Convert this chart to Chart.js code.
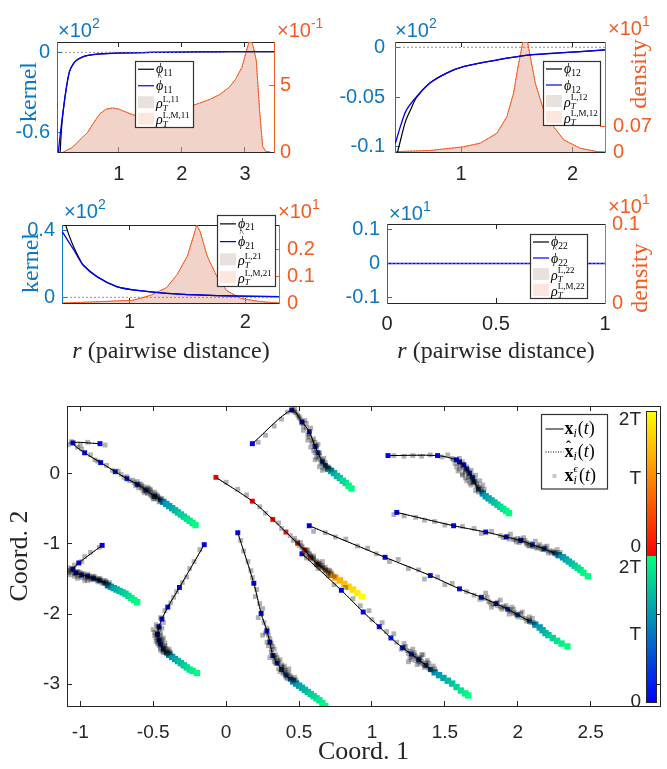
<!DOCTYPE html>
<html>
<head>
<meta charset="utf-8">
<script src="https://cdn.jsdelivr.net/npm/chart.js@4.4.1/dist/chart.umd.min.js"></script>
<style>
  html, body { margin: 0; padding: 0; background: #fff; }
  body { width: 667px; height: 769px; position: relative; overflow: hidden; }
  canvas { position: absolute; }
</style>
</head>
<body>
<canvas id="p11"></canvas>
<canvas id="p12"></canvas>
<canvas id="p21"></canvas>
<canvas id="p22"></canvas>
<canvas id="traj"></canvas>
<script>
// ---------- kernel panels: values ----------
// panel 11 (kernel x10^2, density x10^-1)
const xLim11 = [0.02, 3.46], kLim11 = [-0.744, 0.077], dLim11 = [0, 8.33];
const xTicks11 = [1, 2, 3], kTicks11 = [-0.6, 0], dTicks11 = [0, 5];
const rPhi11 = [0.07, 0.09, 0.12, 0.17, 0.22, 0.28, 0.33, 0.40, 0.49, 0.70, 1.0, 1.5, 2.0, 2.5, 3.0, 3.46];
const phi11 = [-0.745, -0.58, -0.43, -0.26, -0.14, -0.085, -0.06, -0.04, -0.025, -0.012, -0.005, -0.001, 0.002, 0.004, 0.005, 0.005];
const rPhiHat11 = [0.04, 0.07, 0.10, 0.12, 0.17, 0.22, 0.28, 0.33, 0.40, 0.49, 0.70, 1.0, 1.5, 2.0, 2.5, 3.0, 3.46];
const phiHat11 = [-0.745, -0.62, -0.50, -0.43, -0.26, -0.14, -0.085, -0.06, -0.04, -0.025, -0.012, -0.005, -0.001, 0.002, 0.004, 0.005, 0.005];
const rRho11 = [0.12, 0.25, 0.33, 0.42, 0.50, 0.60, 0.70, 0.80, 0.90, 1.00, 1.10, 1.23, 1.35, 1.45, 1.55, 1.65, 1.80, 1.96, 2.10, 2.28, 2.45, 2.60, 2.75, 2.85, 2.95, 3.02, 3.08, 3.13, 3.18, 3.23, 3.28, 3.33, 3.40];
const rho11 = [0, 0.3, 0.66, 1.1, 1.45, 2.2, 2.9, 3.25, 3.33, 3.25, 3.05, 2.8, 2.7, 2.65, 2.72, 2.8, 2.95, 3.18, 3.4, 3.7, 4.0, 4.35, 4.9, 5.5, 6.4, 7.6, 8.6, 8.0, 6.9, 3.2, 0.4, 0.05, 0];

// panel 12 (kernel x10^2, density x10^1)
const xLim12 = [0.407, 2.29], kLim12 = [-0.1053, 0.0053], dLim12 = [0, 0.30];
const xTicks12 = [1, 2], kTicks12 = [-0.1, -0.05, 0], dTicks12 = [0, 0.07];
const rPhi12 = [0.43, 0.46, 0.50, 0.55, 0.60, 0.72, 0.87, 1.02, 1.32, 1.62, 1.92, 2.29];
const phi12 = [-0.1053, -0.092, -0.075, -0.062, -0.0505, -0.036, -0.026, -0.0195, -0.0128, -0.0077, -0.0054, -0.0027];
const rPhiHat12 = [0.41, 0.46, 0.51, 0.60, 0.72, 0.87, 1.02, 1.32, 1.62, 1.92, 2.29];
const phiHat12 = [-0.0966, -0.078, -0.063, -0.0497, -0.036, -0.026, -0.0195, -0.0128, -0.0077, -0.0054, -0.0027];
const rRho12 = [0.41, 0.72, 1.02, 1.17, 1.32, 1.41, 1.47, 1.51, 1.545, 1.56, 1.59, 1.62, 1.665, 1.74, 1.83, 1.92, 2.07, 2.22, 2.29];
const rho12 = [0.001, 0.004, 0.014, 0.024, 0.051, 0.096, 0.16, 0.232, 0.287, 0.31, 0.31, 0.26, 0.187, 0.114, 0.069, 0.033, 0.010, 0.001, 0];

// panel 21 (kernel x10^2, density x10^1)
const xLim21 = [0.418, 2.29], kLim21 = [-0.034, 0.434], dLim21 = [0, 0.29];
const xTicks21 = [1, 2], kTicks21 = [0, 0.4], dTicks21 = [0, 0.1, 0.2];
const rPhi21 = [0.45, 0.48, 0.52, 0.57, 0.60, 0.72, 0.89, 1.04, 1.32, 1.61, 1.90, 2.29];
const phi21 = [0.434, 0.37, 0.30, 0.23, 0.194, 0.124, 0.064, 0.044, 0.024, 0.014, 0.008, 0.004];
const rPhiHat21 = [0.42, 0.52, 0.60, 0.72, 0.89, 1.04, 1.32, 1.61, 1.90, 2.29];
const phiHat21 = [0.394, 0.284, 0.194, 0.124, 0.064, 0.044, 0.024, 0.014, 0.008, 0.004];
const rRho21 = [0.43, 0.75, 1.03, 1.18, 1.32, 1.41, 1.50, 1.55, 1.58, 1.61, 1.67, 1.76, 1.84, 1.96, 2.13, 2.29];
const rho21 = [0, 0.005, 0.01, 0.028, 0.057, 0.105, 0.175, 0.245, 0.29, 0.265, 0.175, 0.093, 0.046, 0.017, 0.005, 0];

// panel 22 (kernel x10^1, density x10^1) - no pairs, empty density
const xLim22 = [0, 1], kLim22 = [-0.117, 0.117], dLim22 = [0, 0.1];
const xTicks22 = [0, 0.5, 1], kTicks22 = [-0.1, 0, 0.1], dTicks22 = [0, 0.1];
const rPhi22 = [0, 1], phi22 = [0, 0];
const rPhiHat22 = [0, 1], phiHat22 = [0, 0];
const rRho22 = [], rho22 = [];

// ---------- trajectories (Coord. 1, Coord. 2) ----------
const xLimT = [-1.091, 2.975], yLimT = [-3.31, 0.967];
const xTicksT = [-1, -0.5, 0, 0.5, 1, 1.5, 2, 2.5], yTicksT = [-3, -2, -1, 0];
const cbarLabels = ['2T', 'T', '0', '2T', 'T', '0'];

// type-1 agent (autumn colours)
const trainR = [[-0.07,-0.05],[0.18,-0.39],[0.32,-0.65],[0.41,-0.83],[0.49,-0.99],[0.54,-1.09],[0.58,-1.19],[0.63,-1.29],[0.68,-1.37]];
const predR = [[0.72,-1.44],[0.75,-1.48],[0.78,-1.52],[0.81,-1.57],[0.84,-1.61],[0.87,-1.65],[0.90,-1.70],[0.93,-1.75]];
const noiseR = [[0.0,-0.12],[0.08,-0.22],[0.14,-0.30],[0.23,-0.47],[0.27,-0.56],[0.36,-0.70],[0.38,-0.78],[0.44,-0.88],[0.46,-0.95],[0.50,-1.02],[0.52,-1.05],[0.55,-1.12],[0.57,-1.15],[0.60,-1.22],[0.62,-1.24],[0.64,-1.32],[0.66,-1.33],[0.69,-1.40],[0.71,-1.38],[0.60,-1.17],[0.66,-1.25],
  [0.47,-0.92],[0.51,-0.98],[0.53,-1.08],[0.56,-1.09],[0.58,-1.17],[0.59,-1.20],[0.61,-1.27],[0.63,-1.26],[0.65,-1.30],[0.67,-1.35],[0.68,-1.33],[0.70,-1.42],[0.72,-1.40],[0.55,-1.16],[0.63,-1.35],[0.74,-1.46],
  [0.49,-0.97],[0.52,-1.03],[0.55,-1.08],[0.57,-1.13],[0.60,-1.20],[0.62,-1.29],[0.64,-1.28],[0.66,-1.31],[0.68,-1.38],[0.70,-1.37],[0.58,-1.21],[0.65,-1.34]];

// type-2 agents (winter colours)
const trainA = [[-0.865,0.43],[-1.05,0.44],[-0.97,0.30],[-0.86,0.16],[-0.76,0.03],[-0.68,-0.07],[-0.61,-0.15],[-0.55,-0.23],[-0.49,-0.32],[-0.45,-0.37]];
const predA = [[-0.43,-0.40],[-0.41,-0.43],[-0.39,-0.46],[-0.37,-0.49],[-0.35,-0.52],[-0.33,-0.55],[-0.31,-0.58],[-0.29,-0.61],[-0.27,-0.64],[-0.25,-0.67],[-0.23,-0.70],[-0.21,-0.73]];
const noiseA = [[-0.83,0.41],[-0.95,0.45],[-1.08,0.42],[-1.02,0.38],[-0.99,0.35],[-0.93,0.27],[-0.90,0.20],[-0.82,0.12],[-0.78,0.05],[-0.72,-0.01],[-0.70,-0.05],[-0.66,-0.10],[-0.63,-0.13],[-0.60,-0.16],[-0.58,-0.20],[-0.56,-0.21],[-0.53,-0.26],[-0.51,-0.27],[-0.50,-0.30],[-0.48,-0.33],[-0.47,-0.36],[-0.52,-0.24],[-0.46,-0.34],[-0.57,-0.18],[-0.64,-0.09],
  [-0.62,-0.17],[-0.59,-0.14],[-0.55,-0.25],[-0.54,-0.19],[-0.50,-0.33],[-0.49,-0.26],[-0.47,-0.31],[-0.45,-0.39],[-0.44,-0.35],[-0.52,-0.30],[-0.56,-0.27],[-0.61,-0.11],[-0.68,-0.04],[-0.74,0.04],[-0.88,0.18],[-1.00,0.41],[-1.06,0.46],[-1.10,0.40],
  [-0.60,-0.20],[-0.58,-0.16],[-0.54,-0.28],[-0.52,-0.22],[-0.50,-0.36],[-0.48,-0.29],[-0.46,-0.40],[-0.47,-0.33],[-0.53,-0.21],[-0.57,-0.24],[-0.49,-0.35],[-0.51,-0.32]];

const trainB = [[-0.85,-1.02],[-1.01,-1.27],[-1.05,-1.36],[-1.03,-1.41],[-0.99,-1.44],[-0.95,-1.46],[-0.91,-1.49],[-0.87,-1.52],[-0.83,-1.56]];
const predB = [[-0.81,-1.59],[-0.79,-1.61],[-0.77,-1.63],[-0.75,-1.65],[-0.73,-1.67],[-0.71,-1.69],[-0.69,-1.71],[-0.67,-1.74],[-0.65,-1.77],[-0.63,-1.80],[-0.61,-1.83]];
const noiseB = [[-0.87,-1.05],[-0.93,-1.12],[-0.97,-1.18],[-0.99,-1.25],[-1.04,-1.30],[-1.08,-1.34],[-1.09,-1.38],[-1.06,-1.40],[-1.03,-1.43],[-1.07,-1.44],[-1.01,-1.46],[-0.98,-1.42],[-0.96,-1.49],[-0.94,-1.45],[-0.92,-1.51],[-0.90,-1.47],[-0.88,-1.54],[-0.86,-1.50],[-0.84,-1.53],[-0.82,-1.57],[-0.80,-1.55],[-0.97,-1.52],[-1.02,-1.39],
  [-1.05,-1.37],[-1.08,-1.41],[-1.04,-1.46],[-1.00,-1.41],[-0.99,-1.48],[-0.95,-1.43],[-0.93,-1.50],[-0.91,-1.46],[-0.89,-1.51],[-0.87,-1.49],[-0.85,-1.56],[-0.83,-1.52],[-0.81,-1.59],[-1.06,-1.35],[-1.02,-1.49],[-0.95,-1.52],
  [-1.07,-1.38],[-1.04,-1.42],[-1.01,-1.40],[-1.00,-1.45],[-0.97,-1.45],[-0.94,-1.48],[-0.92,-1.47],[-0.90,-1.50],[-0.88,-1.50],[-0.86,-1.53],[-0.84,-1.55],[-0.82,-1.54]];

const trainC = [[-0.15,-1.01],[-0.32,-1.62],[-0.40,-1.90],[-0.44,-2.07],[-0.46,-2.18],[-0.47,-2.29],[-0.46,-2.37],[-0.45,-2.43],[-0.43,-2.50],[-0.41,-2.55]];
const predC = [[-0.39,-2.58],[-0.37,-2.61],[-0.35,-2.64],[-0.33,-2.67],[-0.31,-2.70],[-0.29,-2.73],[-0.27,-2.76],[-0.25,-2.79],[-0.23,-2.81],[-0.20,-2.84]];
const noiseC = [[-0.18,-1.08],[-0.22,-1.25],[-0.25,-1.35],[-0.27,-1.47],[-0.30,-1.55],[-0.34,-1.68],[-0.36,-1.76],[-0.38,-1.84],[-0.42,-1.95],[-0.45,-2.05],[-0.43,-2.12],[-0.48,-2.15],[-0.46,-2.22],[-0.49,-2.26],[-0.45,-2.30],[-0.48,-2.34],[-0.44,-2.38],[-0.47,-2.42],[-0.42,-2.45],[-0.45,-2.48],[-0.40,-2.52],[-0.43,-2.55],[-0.38,-2.55],
  [-0.47,-2.18],[-0.44,-2.20],[-0.49,-2.31],[-0.46,-2.33],[-0.43,-2.34],[-0.48,-2.39],[-0.45,-2.40],[-0.42,-2.41],[-0.46,-2.45],[-0.43,-2.48],[-0.41,-2.49],[-0.44,-2.53],[-0.40,-2.56],[-0.39,-2.50],[-0.47,-2.27],[-0.50,-2.22],
  [-0.46,-2.20],[-0.48,-2.28],[-0.45,-2.27],[-0.47,-2.36],[-0.44,-2.36],[-0.46,-2.40],[-0.44,-2.44],[-0.42,-2.47],[-0.45,-2.51],[-0.42,-2.53],[-0.39,-2.54],[-0.41,-2.57]];

const trainD = [[0.08,-0.84],[0.19,-1.56],[0.24,-1.99],[0.28,-2.24],[0.30,-2.40],[0.32,-2.59],[0.35,-2.70],[0.38,-2.79],[0.41,-2.87],[0.44,-2.93]];
const predD = [[0.46,-2.96],[0.48,-2.99],[0.50,-3.02],[0.52,-3.05],[0.54,-3.08],[0.56,-3.11],[0.58,-3.14],[0.60,-3.17],[0.62,-3.20],[0.64,-3.23],[0.66,-3.27],[0.68,-3.31]];
const noiseD = [[0.10,-0.95],[0.12,-1.10],[0.15,-1.25],[0.17,-1.38],[0.18,-1.48],[0.21,-1.65],[0.20,-1.75],[0.23,-1.85],[0.25,-1.92],[0.22,-2.05],[0.26,-2.12],[0.28,-2.20],[0.25,-2.30],[0.30,-2.35],[0.29,-2.45],[0.33,-2.50],[0.31,-2.55],[0.35,-2.62],[0.33,-2.68],[0.38,-2.72],[0.36,-2.78],[0.41,-2.80],[0.39,-2.85],[0.44,-2.88],[0.42,-2.92],[0.46,-2.95],[0.47,-2.90],
  [0.27,-2.27],[0.31,-2.42],[0.28,-2.40],[0.34,-2.58],[0.30,-2.62],[0.36,-2.68],[0.37,-2.65],[0.39,-2.76],[0.40,-2.74],[0.43,-2.84],[0.41,-2.90],[0.45,-2.92],[0.48,-2.94],[0.37,-2.82],[0.43,-2.78],[0.33,-2.60],
  [0.29,-2.30],[0.32,-2.46],[0.31,-2.50],[0.33,-2.63],[0.35,-2.66],[0.34,-2.70],[0.38,-2.75],[0.40,-2.80],[0.42,-2.86],[0.40,-2.83],[0.44,-2.90],[0.46,-2.93]];

const trainE = [[0.18,0.43],[0.45,0.91],[0.52,0.74],[0.57,0.60],[0.61,0.39],[0.63,0.30],[0.66,0.17],[0.68,0.12]];
const predE = [[0.70,0.07],[0.72,0.04],[0.74,0.01],[0.76,-0.03],[0.78,-0.06],[0.80,-0.10],[0.82,-0.13],[0.84,-0.17],[0.86,-0.21]];
const noiseE = [[0.22,0.45],[0.27,0.55],[0.33,0.68],[0.38,0.78],[0.42,0.88],[0.47,0.93],[0.50,0.82],[0.48,0.87],[0.54,0.76],[0.53,0.68],[0.58,0.65],[0.56,0.55],[0.60,0.50],[0.59,0.44],[0.63,0.42],[0.60,0.33],[0.64,0.30],[0.62,0.24],[0.67,0.22],[0.65,0.15],[0.68,0.12],[0.70,0.08],[0.66,0.05],[0.72,0.06],
  [0.46,0.90],[0.49,0.84],[0.51,0.78],[0.55,0.72],[0.53,0.62],[0.57,0.57],[0.61,0.45],[0.58,0.38],[0.62,0.36],[0.64,0.26],[0.61,0.20],[0.66,0.19],[0.68,0.16],[0.64,0.10],[0.70,0.10],[0.67,0.08],[0.56,0.48],
  [0.47,0.88],[0.50,0.80],[0.52,0.72],[0.55,0.66],[0.57,0.52],[0.59,0.47],[0.62,0.40],[0.61,0.30],[0.63,0.22],[0.65,0.20],[0.67,0.14],[0.69,0.10]];

const trainF = [[1.11,0.26],[1.45,0.26],[1.58,0.20],[1.60,0.17],[1.63,0.13],[1.65,0.07],[1.67,0.01],[1.69,-0.05],[1.70,-0.11],[1.73,-0.22]];
const predF = [[1.76,-0.28],[1.78,-0.32],[1.80,-0.35],[1.82,-0.38],[1.84,-0.41],[1.86,-0.44],[1.88,-0.47],[1.90,-0.50],[1.92,-0.53],[1.94,-0.56]];
const noiseF = [[1.15,0.26],[1.22,0.25],[1.28,0.26],[1.34,0.25],[1.40,0.27],[1.48,0.24],[1.52,0.27],[1.55,0.22],[1.60,0.22],[1.57,0.15],[1.62,0.17],[1.60,0.07],[1.65,0.10],[1.64,0.02],[1.68,0.05],[1.66,-0.05],[1.71,-0.02],[1.69,-0.12],[1.74,-0.10],[1.72,-0.18],[1.76,-0.16],[1.75,-0.22],[1.68,-0.08],[1.62,0.0],
  [1.56,0.20],[1.61,0.12],[1.58,0.10],[1.63,0.08],[1.66,0.03],[1.62,-0.02],[1.68,-0.02],[1.70,-0.07],[1.65,-0.10],[1.72,-0.14],[1.68,-0.16],[1.74,-0.19],[1.71,-0.24],[1.77,-0.22],[1.73,-0.26],[1.59,0.04],[1.67,-0.13],
  [1.60,0.15],[1.62,0.10],[1.64,0.05],[1.66,0.00],[1.67,-0.04],[1.69,-0.08],[1.70,-0.13],[1.72,-0.17],[1.73,-0.21],[1.75,-0.25],[1.64,-0.06],[1.71,-0.10]];

const trainG = [[1.17,-0.55],[1.56,-0.74],[1.78,-0.83],[1.92,-0.90],[2.02,-0.95],[2.10,-1.01],[2.18,-1.07],[2.25,-1.13]];
const predG = [[2.28,-1.16],[2.31,-1.19],[2.33,-1.22],[2.35,-1.25],[2.37,-1.28],[2.39,-1.31],[2.41,-1.34],[2.43,-1.37],[2.45,-1.41],[2.48,-1.46]];
const noiseG = [[1.15,-0.58],[1.22,-0.60],[1.30,-0.62],[1.36,-0.66],[1.43,-0.68],[1.50,-0.73],[1.62,-0.75],[1.70,-0.78],[1.75,-0.85],[1.82,-0.82],[1.88,-0.88],[1.95,-0.86],[1.97,-0.93],[2.04,-0.91],[2.06,-0.98],[2.12,-0.96],[2.14,-1.05],[2.20,-1.03],[2.22,-1.10],[2.27,-1.08],[2.08,-1.03],[1.99,-0.97],
  [1.90,-0.91],[1.94,-0.93],[2.00,-0.92],[2.01,-0.98],[2.05,-0.95],[2.09,-0.99],[2.11,-1.04],[2.15,-1.01],[2.17,-1.08],[2.19,-1.06],[2.21,-1.13],[2.24,-1.10],[2.26,-1.15],[2.29,-1.12],[2.13,-1.06],[2.07,-1.02],
  [1.93,-0.89],[1.98,-0.94],[2.03,-0.96],[2.06,-1.00],[2.10,-1.03],[2.14,-1.03],[2.16,-1.07],[2.20,-1.09],[2.23,-1.12],[2.26,-1.12],[2.02,-0.93],[2.18,-1.04]];

const trainH = [[0.57,-0.74],[1.09,-1.19],[1.40,-1.45],[1.60,-1.64],[1.75,-1.76],[1.85,-1.85],[1.93,-1.93],[2.00,-2.01],[2.08,-2.10]];
const predH = [[2.12,-2.15],[2.15,-2.19],[2.17,-2.23],[2.19,-2.27],[2.21,-2.30],[2.24,-2.34],[2.27,-2.38],[2.30,-2.42],[2.34,-2.46]];
const noiseH = [[0.60,-0.82],[0.68,-0.84],[0.75,-0.90],[0.82,-0.93],[0.90,-1.03],[0.97,-1.06],[1.03,-1.14],[1.12,-1.25],[1.18,-1.22],[1.25,-1.35],[1.32,-1.37],[1.36,-1.50],[1.45,-1.47],[1.50,-1.58],[1.55,-1.56],[1.65,-1.68],[1.70,-1.73],[1.78,-1.70],[1.80,-1.82],[1.88,-1.80],[1.90,-1.89],[1.96,-1.90],[1.98,-1.98],[2.03,-1.97],[2.05,-2.06],[2.10,-2.06],
  [1.74,-1.79],[1.79,-1.76],[1.83,-1.86],[1.86,-1.83],[1.89,-1.93],[1.92,-1.88],[1.95,-1.96],[1.97,-1.93],[2.00,-2.04],[2.02,-1.99],[2.06,-2.10],[2.08,-2.04],[2.11,-2.12],[1.94,-2.00],[1.82,-1.90],
  [1.77,-1.78],[1.81,-1.84],[1.85,-1.85],[1.88,-1.90],[1.91,-1.91],[1.94,-1.94],[1.97,-1.99],[1.99,-2.01],[2.03,-2.05],[2.07,-2.08],[2.09,-2.12],[1.86,-1.88]];

const trainI = [[0.52,-1.14],[0.79,-1.66],[0.94,-1.97],[1.05,-2.18],[1.13,-2.34],[1.21,-2.48],[1.27,-2.57],[1.32,-2.65],[1.37,-2.73],[1.40,-2.79]];
const predI = [[1.43,-2.83],[1.46,-2.87],[1.49,-2.91],[1.52,-2.95],[1.55,-2.99],[1.58,-3.04],[1.61,-3.09],[1.64,-3.13],[1.66,-3.16]];
const noiseI = [[0.55,-1.20],[0.62,-1.30],[0.70,-1.45],[0.74,-1.58],[0.82,-1.62],[0.87,-1.78],[0.92,-1.88],[0.98,-1.95],[1.00,-2.08],[1.07,-2.12],[1.10,-2.25],[1.15,-2.28],[1.17,-2.40],[1.22,-2.42],[1.24,-2.52],[1.28,-2.50],[1.30,-2.60],[1.34,-2.58],[1.33,-2.70],[1.38,-2.66],[1.36,-2.76],[1.42,-2.74],[1.26,-2.62],
  [1.20,-2.50],[1.23,-2.46],[1.25,-2.56],[1.29,-2.55],[1.27,-2.65],[1.31,-2.63],[1.33,-2.64],[1.35,-2.71],[1.37,-2.69],[1.39,-2.77],[1.41,-2.80],[1.43,-2.78],[1.31,-2.72],[1.25,-2.68],[1.35,-2.58],
  [1.22,-2.48],[1.26,-2.53],[1.28,-2.60],[1.30,-2.66],[1.32,-2.68],[1.34,-2.67],[1.36,-2.73],[1.38,-2.74],[1.40,-2.79],[1.29,-2.58],[1.33,-2.62],[1.39,-2.70]];

// ---------- styling ----------
const BLUE = '#0b77c5', ORANGE = '#f55a1e', DARK = '#262626';
const SANS = '"Liberation Sans", Arial, sans-serif';
const SERIF = '"Liberation Serif", "Times New Roman", serif';

function xy(xs, ys) { return xs.map((x, i) => ({ x: x, y: ys[i] })); }
function pts(arr) { return arr.map(p => ({ x: p[0], y: p[1] })); }
function setTicks(vals) { return function (s) { s.ticks = vals.map(v => ({ value: v })); }; }
function winter(t) { return 'rgb(0,' + Math.round(255 * t) + ',' + Math.round(255 * (1 - 0.5 * t)) + ')'; }
function autumn(t) { return 'rgb(255,' + Math.round(255 * t) + ',0)'; }

function axis(pos, lim, ticks, color, size, pad, fontSize, showLabels) {
  return {
    type: 'linear', position: pos, min: lim[0], max: lim[1],
    afterBuildTicks: setTicks(ticks),
    afterFit: function (s) { if (s.isHorizontal()) s.height = size; else s.width = size; },
    ticks: { display: showLabels, autoSkip: false, maxRotation: 0, padding: pad, color: color === BLUE || color === ORANGE ? color : DARK,
             font: { family: SANS, size: fontSize }, callback: v => String(v) },
    grid: { drawOnChartArea: false, drawTicks: true, tickLength: -5, color: color, tickColor: color, lineWidth: 1 },
    border: { display: true, color: color, width: 1 }
  };
}

function placeCanvas(id, box) {
  const cv = document.getElementById(id);
  cv.width = box[2]; cv.height = box[3];
  cv.style.left = box[0] + 'px'; cv.style.top = box[1] + 'px';
  return cv;
}

// math-ish text helpers
function txt(ctx, s, x, y, font, color) { ctx.font = font; ctx.fillStyle = color; ctx.fillText(s, x, y); return ctx.measureText(s).width; }

function phiLabel(ctx, x, y, sub, hat) {
  const w = txt(ctx, 'ϕ', x, y, 'italic 14px ' + SERIF, '#000');
  if (hat) txt(ctx, '^', x + 1.5, y - 9, '9px ' + SERIF, '#000');
  txt(ctx, sub, x + w, y + 4, '9.5px ' + SERIF, '#000');
}
function rhoLabel(ctx, x, y, sup) {
  const w = txt(ctx, 'ρ', x, y, 'italic 14px ' + SERIF, '#000');
  txt(ctx, 'T', x + w, y + 4, 'italic 9px ' + SERIF, '#000');
  txt(ctx, sup, x + w, y - 5, '9px ' + SERIF, '#000');
}

function drawSmallLegend(ctx, L, ox, oy, sub) {
  const bx = L[0] - ox, by = L[1] - oy, bw = L[2], bh = L[3];
  ctx.save();
  ctx.fillStyle = '#fff'; ctx.fillRect(bx, by, bw, bh);
  ctx.strokeStyle = '#333'; ctx.lineWidth = 1.2; ctx.strokeRect(bx + 0.5, by + 0.5, bw, bh);
  ctx.textBaseline = 'middle'; ctx.textAlign = 'left';
  const rows = [0, 1, 2, 3].map(k => by + bh * (2 * k + 1) / 8);
  ctx.lineWidth = 1.2;
  ctx.strokeStyle = '#000'; ctx.beginPath(); ctx.moveTo(bx + 3, rows[0]); ctx.lineTo(bx + 19, rows[0]); ctx.stroke();
  ctx.strokeStyle = '#0000ff'; ctx.beginPath(); ctx.moveTo(bx + 3, rows[1]); ctx.lineTo(bx + 19, rows[1]); ctx.stroke();
  ctx.fillStyle = '#e9e1dd'; ctx.fillRect(bx + 3, rows[2] - 6, 16, 12);
  ctx.fillStyle = '#fce6de'; ctx.fillRect(bx + 3, rows[3] - 6, 16, 12);
  const tx = bx + 21;
  phiLabel(ctx, tx, rows[0], sub, false);
  phiLabel(ctx, tx, rows[1] + 1, sub, true);
  rhoLabel(ctx, tx, rows[2] + 2, 'L,' + sub);
  rhoLabel(ctx, tx, rows[3] + 2, 'L,M,' + sub);
  ctx.restore();
}

function drawExp(ctx, x, y, power, color) {
  ctx.textBaseline = 'alphabetic'; ctx.textAlign = 'left';
  const w = txt(ctx, '×10', x, y, '20px ' + SANS, color);
  txt(ctx, power, x + w, y - 9, '14px ' + SANS, color);
}

function drawVertical(ctx, s, x, y, color) {
  ctx.save();
  ctx.translate(x, y); ctx.rotate(-Math.PI / 2);
  ctx.textAlign = 'center'; ctx.textBaseline = 'middle';
  txt(ctx, s, 0, 0, '24px ' + SERIF, color);
  ctx.restore();
}

function drawRLabel(ctx, cx, cy) {
  ctx.save();
  ctx.textBaseline = 'middle'; ctx.textAlign = 'left';
  ctx.font = 'italic 24px ' + SERIF; const w1 = ctx.measureText('r').width;
  ctx.font = '24px ' + SERIF; const w2 = ctx.measureText(' (pairwise distance)').width;
  const x0 = cx - (w1 + w2) / 2;
  txt(ctx, 'r', x0, cy, 'italic 24px ' + SERIF, DARK);
  txt(ctx, ' (pairwise distance)', x0 + w1, cy, '24px ' + SERIF, DARK);
  ctx.restore();
}

// ---------- the four kernel panels ----------
const panels = [
  { id: 'p11', box: [0, 0, 333, 190], plot: [57, 42, 274, 152], sub: '11',
    xLim: xLim11, kLim: kLim11, dLim: dLim11, xT: xTicks11, kT: kTicks11, dT: dTicks11,
    rPhi: rPhi11, phi: phi11, rHat: rPhiHat11, hat: phiHat11, rRho: rRho11, rho: rho11,
    gapL: 7, gapR: 6, xPad: 15, legend: [135, 61, 58, 66],
    expL: [58, 37, '2'], expR: [277, 37, '-1'], name: ['kernel', 30, 92, BLUE], rlab: null },
  { id: 'p12', box: [333, 0, 334, 190], plot: [395, 42, 605, 152], sub: '12',
    xLim: xLim12, kLim: kLim12, dLim: dLim12, xT: xTicks12, kT: kTicks12, dT: dTicks12,
    rPhi: rPhi12, phi: phi12, rHat: rPhiHat12, hat: phiHat12, rRho: rRho12, rho: rho12,
    gapL: 10, gapR: 8, xPad: 15, legend: [543, 61, 57, 64],
    expL: [395, 37, '2'], expR: [608, 35, '1'], name: ['density', 640, 74, ORANGE], rlab: null },
  { id: 'p21', box: [0, 190, 333, 180], plot: [62, 225, 279, 303], sub: '21',
    xLim: xLim21, kLim: kLim21, dLim: dLim21, xT: xTicks21, kT: kTicks21, dT: dTicks21,
    rPhi: rPhi21, phi: phi21, rHat: rPhiHat21, hat: phiHat21, rRho: rRho21, rho: rho21,
    gapL: 7, gapR: 8, xPad: 12, legend: [217, 215, 58, 71],
    expL: [64, 218, '2'], expR: [278, 218, '1'], name: ['kernel', 32, 263, BLUE], rlab: [171, 352] },
  { id: 'p22', box: [333, 190, 334, 180], plot: [387, 224, 605, 303], sub: '22',
    xLim: xLim22, kLim: kLim22, dLim: dLim22, xT: xTicks22, kT: kTicks22, dT: dTicks22,
    rPhi: rPhi22, phi: phi22, rHat: rPhiHat22, hat: phiHat22, rRho: rRho22, rho: rho22,
    gapL: 7, gapR: 7, xPad: 14, legend: [530, 234, 57, 64],
    expL: [389, 220, '1'], expR: [608, 213, '1'], name: ['density', 641, 278, ORANGE], rlab: [496, 352] }
];

panels.forEach(function (p) {
  const cv = placeCanvas(p.id, p.box);
  const ox = p.box[0], oy = p.box[1];
  const wl = p.plot[0] - ox, wr = ox + p.box[2] - p.plot[2];
  const padTop = p.plot[1] - oy, hb = oy + p.box[3] - p.plot[3];
  const zero = [{ x: p.xLim[0], y: 0 }, { x: p.xLim[1], y: 0 }];
  new Chart(cv, {
    type: 'scatter',
    data: { datasets: [
      { data: zero, yAxisID: 'yL', showLine: true, borderColor: '#777', borderWidth: 0.8, borderDash: [2, 2], pointRadius: 0 },
      { data: xy(p.rHat, p.hat), yAxisID: 'yL', showLine: true, borderColor: '#0000ff', borderWidth: 1.3, pointRadius: 0, tension: 0.3 },
      { data: xy(p.rPhi, p.phi), yAxisID: 'yL', showLine: true, borderColor: '#000', borderWidth: 1.2, pointRadius: 0, tension: 0.3 },
      { data: xy(p.rRho, p.rho), yAxisID: 'yR', showLine: true, fill: 'origin', backgroundColor: 'rgba(245,170,150,0.35)',
        borderColor: ORANGE, borderWidth: 1, borderDash: [1.5, 1.5], pointRadius: 0 },
      { data: xy(p.rRho, p.rho), yAxisID: 'yR', showLine: true, fill: 'origin', backgroundColor: 'rgba(215,195,185,0.35)',
        borderColor: ORANGE, borderWidth: 1, pointRadius: 0 }
    ] },
    options: {
      responsive: false, maintainAspectRatio: false, animation: false, events: [],
      layout: { padding: { top: padTop, left: 0, right: 0, bottom: 0 } },
      plugins: { legend: { display: false }, tooltip: { enabled: false } },
      scales: {
        x: axis('bottom', p.xLim, p.xT, DARK, hb, p.xPad, 20, true),
        xTop: axis('top', p.xLim, p.xT, DARK, 0, 0, 20, false),
        yL: axis('left', p.kLim, p.kT, BLUE, wl, p.gapL + 5, 20, true),
        yR: axis('right', p.dLim, p.dT, ORANGE, wr, p.gapR + 5, 20, true)
      }
    },
    plugins: [{ id: 'deco', afterDraw: function (chart) {
      const ctx = chart.ctx;
      ctx.save();
      drawSmallLegend(ctx, p.legend, ox, oy, p.sub);
      drawExp(ctx, p.expL[0] - ox, p.expL[1] - oy, p.expL[2], BLUE);
      drawExp(ctx, p.expR[0] - ox, p.expR[1] - oy, p.expR[2], ORANGE);
      drawVertical(ctx, p.name[0], p.name[1] - ox, p.name[2] - oy, p.name[3]);
      if (p.rlab) drawRLabel(ctx, p.rlab[0] - ox, p.rlab[1] - oy);
      ctx.restore();
    } }]
  });
});

// ---------- trajectory panel ----------
const agents = [
  { type: 1, train: trainR, pred: predR, noise: noiseR },
  { type: 2, train: trainA, pred: predA, noise: noiseA },
  { type: 2, train: trainB, pred: predB, noise: noiseB },
  { type: 2, train: trainC, pred: predC, noise: noiseC },
  { type: 2, train: trainD, pred: predD, noise: noiseD },
  { type: 2, train: trainE, pred: predE, noise: noiseE },
  { type: 2, train: trainF, pred: predF, noise: noiseF },
  { type: 2, train: trainG, pred: predG, noise: noiseG },
  { type: 2, train: trainH, pred: predH, noise: noiseH },
  { type: 2, train: trainI, pred: predI, noise: noiseI }
];

const lineSets = [], noiseSets = [], markSets = [];
agents.forEach(function (a) {
  const cmap = a.type === 1 ? autumn : winter;
  lineSets.push({ data: pts(a.train), showLine: true, borderColor: '#000', borderWidth: 1, pointRadius: 0, tension: 0.3 });
  lineSets.push({ data: pts(a.train), showLine: true, borderColor: '#000', borderWidth: 0.8, borderDash: [1, 2], pointRadius: 0, tension: 0.3 });
  noiseSets.push({ data: pts(a.noise), pointStyle: 'rect', pointRadius: 3.4, pointBorderWidth: 0,
    pointBackgroundColor: 'rgba(0,0,0,0.3)' });
  const n = a.train.length, m = a.pred.length;
  const cols = a.train.map((p, i) => cmap(0.45 * Math.pow(i / (n - 1), 2)))
    .concat(a.pred.map((p, j) => cmap(0.5 + 0.5 * (j + 1) / m)));
  const rad = a.train.map(() => 3.5).concat(a.pred.map(() => 4.5));
  markSets.push({ data: pts(a.train.concat(a.pred)), pointStyle: 'rect', pointRadius: rad, pointBorderWidth: 0,
    pointBackgroundColor: cols });
});

const trajBox = [0, 380, 667, 389], trajPlot = [67, 406, 660, 706];

function drawTrajDecor(ctx, ox, oy) {
  ctx.save();
  // legend
  const bx = 541.5 - ox, by = 414.5 - oy, bw = 66, bh = 74.5;
  ctx.fillStyle = '#fff'; ctx.fillRect(bx, by, bw, bh);
  ctx.strokeStyle = '#333'; ctx.lineWidth = 1.2; ctx.strokeRect(bx, by, bw, bh);
  const rows = [429 - oy, 452 - oy, 476 - oy];
  ctx.strokeStyle = '#000'; ctx.lineWidth = 1;
  ctx.beginPath(); ctx.moveTo(bx + 4, rows[0]); ctx.lineTo(bx + 22, rows[0]); ctx.stroke();
  ctx.setLineDash([1, 1.5]);
  ctx.beginPath(); ctx.moveTo(bx + 4, rows[1]); ctx.lineTo(bx + 22, rows[1]); ctx.stroke();
  ctx.setLineDash([]);
  ctx.fillStyle = '#c8c8c8'; ctx.fillRect(bx + 11, rows[2] - 2, 4, 4);
  ctx.textBaseline = 'middle'; ctx.textAlign = 'left';
  const tx = bx + 23;
  const labels = [[false, false], [true, false], [false, true]];
  labels.forEach(function (L, k) {
    const y = rows[k];
    let x = tx;
    const wx = txt(ctx, 'x', x, y, 'bold 18px ' + SERIF, '#000');
    if (L[0]) txt(ctx, '\u02c6', x + 1.5, y - 5, 'bold 15px ' + SERIF, '#000');
    x += wx;
    txt(ctx, 'i', x, y + 5, 'italic 12px ' + SERIF, '#000');
    let ws = ctx.measureText('i').width;
    if (L[1]) { txt(ctx, 'ϵ', x, y - 7, 'italic 11px ' + SERIF, '#000'); ws = Math.max(ws, ctx.measureText('ϵ').width); }
    x += ws + 1;
    x += txt(ctx, '(', x, y, '18px ' + SERIF, '#000');
    x += txt(ctx, 't', x, y, 'italic 18px ' + SERIF, '#000');
    txt(ctx, ')', x, y, '18px ' + SERIF, '#000');
  });
  // colour bar
  const cx = 646 - ox, cw = 10, top = 411 - oy, mid = 556 - oy, bot = 702 - oy;
  let g = ctx.createLinearGradient(0, mid, 0, top);
  g.addColorStop(0, 'rgb(255,0,0)'); g.addColorStop(1, 'rgb(255,255,0)');
  ctx.fillStyle = g; ctx.fillRect(cx, top, cw, mid - top);
  g = ctx.createLinearGradient(0, bot, 0, mid);
  g.addColorStop(0, 'rgb(0,0,255)'); g.addColorStop(1, 'rgb(0,255,128)');
  ctx.fillStyle = g; ctx.fillRect(cx, mid, cw, bot - mid);
  ctx.strokeStyle = DARK; ctx.lineWidth = 1; ctx.strokeRect(cx + 0.5, top + 0.5, cw, bot - top);
  ctx.textAlign = 'right';
  const ly = [420, 479, 547, 568, 635, 702];
  cbarLabels.forEach(function (s, i) { txt(ctx, s, 641 - ox, ly[i] - oy, '19px ' + SANS, DARK); });
  ctx.restore();
}

(function () {
  const cv = placeCanvas('traj', trajBox);
  const ox = trajBox[0], oy = trajBox[1];
  const wl = trajPlot[0] - ox, wr = ox + trajBox[2] - trajPlot[2];
  const padTop = trajPlot[1] - oy, hb = oy + trajBox[3] - trajPlot[3];
  const xs = axis('bottom', xLimT, xTicksT, DARK, hb, 20, 19, true);
  xs.title = { display: true, text: 'Coord. 1', color: DARK, font: { family: SERIF, size: 26 }, padding: { top: 0, bottom: 1.4 } };
  const ys = axis('left', yLimT, yTicksT, DARK, wl, 12, 19, true);
  ys.title = { display: true, text: 'Coord. 2', color: DARK, font: { family: SERIF, size: 26 }, padding: { top: 4.4, bottom: 0 } };
  new Chart(cv, {
    type: 'scatter',
    data: { datasets: lineSets.concat(noiseSets, markSets) },
    options: {
      responsive: false, maintainAspectRatio: false, animation: false, events: [],
      layout: { padding: { top: padTop, left: 0, right: 0, bottom: 0 } },
      plugins: { legend: { display: false }, tooltip: { enabled: false } },
      scales: {
        x: xs,
        xTop: axis('top', xLimT, xTicksT, DARK, 0, 0, 19, false),
        y: ys,
        yRight: axis('right', yLimT, yTicksT, DARK, wr, 0, 19, false)
      }
    },
    plugins: [{ id: 'trajDeco', afterDraw: function (chart) { drawTrajDecor(chart.ctx, ox, oy); } }]
  });
})();
</script>
</body>
</html>
